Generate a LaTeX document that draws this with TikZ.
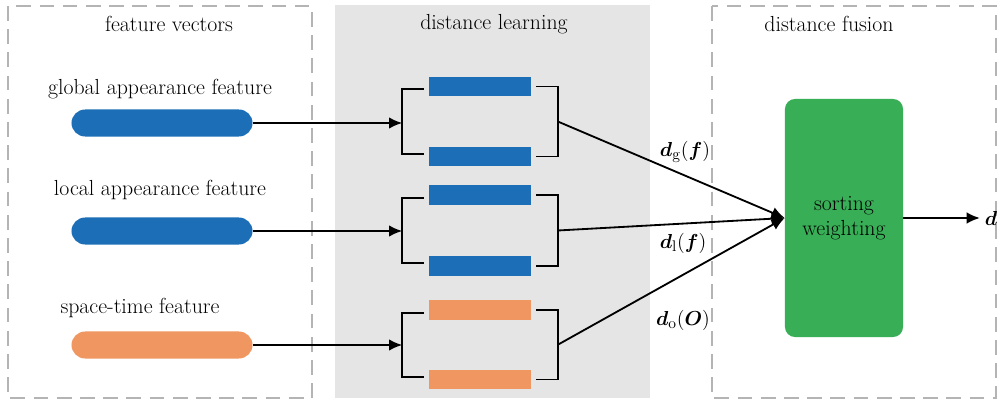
\documentclass[tikz,border=0pt]{standalone}
\usepackage{amsmath,bm}
\usepackage{tikz}
\usetikzlibrary{calc,arrows.meta}
\definecolor{panelgray}{HTML}{E5E5E5}
\definecolor{framegray}{HTML}{B4B4B4}
\definecolor{featblue}{HTML}{1C6FB6}
\definecolor{featorange}{HTML}{EF9661}
\definecolor{fusegreen}{HTML}{38AE56}
\tikzstyle{frame} = [draw=framegray, line width=1.4pt, dash pattern=on 10.5pt off 6pt]
\tikzstyle{pill} = [rectangle, rounded corners=0.34cm, minimum width=4.525cm, minimum height=0.675cm, inner sep=0pt]
\tikzstyle{bar} = [rectangle, minimum width=2.525cm, minimum height=0.475cm, inner sep=0pt]
\tikzstyle{bracket} = [line width=1.3pt]
\tikzstyle{connector} = [line width=1.3pt,-{Latex[length=3.3mm,width=2.9mm]}]
\tikzstyle{heading} = [font=\fontsize{15.5}{18}\selectfont]

\begin{document}
\begin{tikzpicture}[x=0.025cm,y=-0.025cm]
        \useasboundingbox (0,0) rectangle (1003,406);
        % panels
        \fill[panelgray] (335,5) rectangle (650,398);
        \draw[frame] (8,6) rectangle (312,398);
        \draw[frame] (712,6) rectangle (996,398);
        \node (t-feat) [heading] at (169,24) {feature vectors};
        \node (t-learn) [heading] at (494,24) {distance learning};
        \node (t-fuse) [heading] at (829,24) {distance fusion};
        % feature vectors
        \node (l-glob) [heading] at (160,89) {global appearance feature};
        \node (l-loc) [heading] at (160,190) {local appearance feature};
        \node (l-st) [heading] at (140,308) {space-time feature};
        \node (p-glob) [pill, fill=featblue] at (162,123) {};
        \node (p-loc) [pill, fill=featblue] at (162,231) {};
        \node (p-st) [pill, fill=featorange] at (162,345) {};
        % distance learning
        \node (glob-top) [bar, fill=featblue] at (480,86.5) {};
        \node (glob-bot) [bar, fill=featblue] at (480,156.5) {};
        \node (loc-top) [bar, fill=featblue] at (480,195) {};
        \node (loc-bot) [bar, fill=featblue] at (480,266) {};
        \node (st-top) [bar, fill=featorange] at (480,310) {};
        \node (st-bot) [bar, fill=featorange] at (480,379.5) {};
        \foreach \g in {glob,loc,st} {
            \draw[bracket] ([xshift=-0.125cm,yshift=-2pt]\g-top.west) -- ++(-22,0) |- ([xshift=-0.125cm,yshift=2pt]\g-bot.west);
            \draw[bracket] ([xshift=0.125cm]\g-top.east) -- ++(22,0) |- ([xshift=0.125cm]\g-bot.east);
            \coordinate (\g-in) at ($(\g-top.west)!0.5!(\g-bot.west)+(-27,0)$);
            \coordinate (\g-out) at ($(\g-top.east)!0.5!(\g-bot.east)+(27,0)$);
        }
        % distance fusion
        \node (fuse) [rectangle, rounded corners=0.25cm, fill=fusegreen, minimum width=2.95cm, minimum height=5.95cm, align=center, heading] at (844,218) {sorting\\weighting};
        \node (d-out) [heading] at (991,218) {$\bm{d}$};
        \draw[connector] (p-glob.east) -- (p-glob.east -| glob-in);
        \draw[connector] (p-loc.east) -- (p-loc.east -| loc-in);
        \draw[connector] (p-st.east) -- (p-st.east -| st-in);
        \draw[connector] (glob-out) -- (fuse.west);
        \draw[connector] (loc-out) -- (fuse.west);
        \draw[connector] (st-out) -- (fuse.west);
        \draw[connector] (fuse.east) -- (fuse.east -| d-out.west);
        \node (lab-g) [heading] at (685,152) {$\bm{d}_{\mathrm{g}}(\bm{f})$};
        \node (lab-l) [heading] at (683,243) {$\bm{d}_{\mathrm{l}}(\bm{f})$};
        \node (lab-o) [heading] at (683,320) {$\bm{d}_{\mathrm{o}}(\bm{O})$};
    \end{tikzpicture}
\end{document}
